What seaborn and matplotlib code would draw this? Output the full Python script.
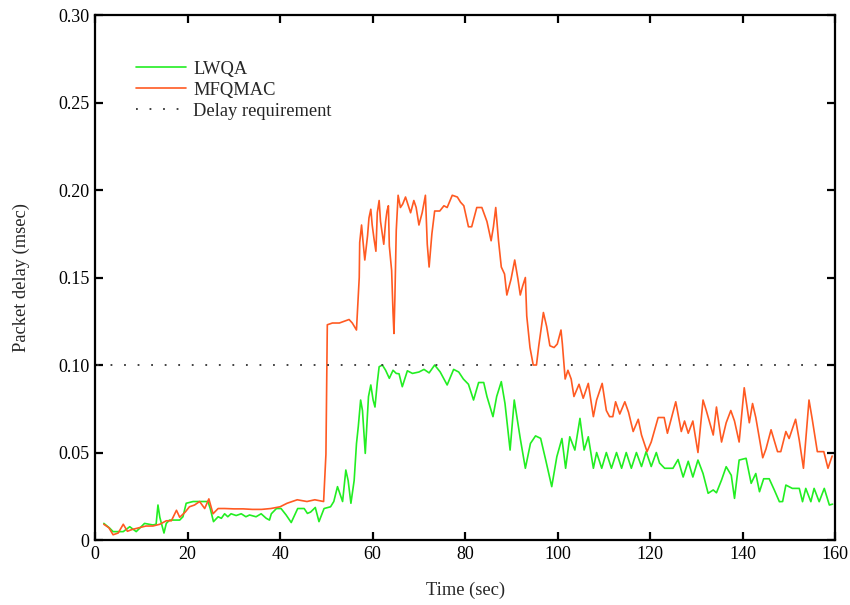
import numpy as np
import pandas as pd
import matplotlib
matplotlib.use("Agg")
import matplotlib.pyplot as plt
import seaborn as sns

# --- data ---
mfqmac_time = [1.9, 3.0, 3.9, 5.0, 6.1, 7.0, 8.0, 9.5, 11.0, 12.5, 14.0, 15.4, 16.5, 17.6, 18.3,
               19.5, 20.4, 21.5, 22.6, 23.7, 24.6, 25.5, 26.6, 28, 30, 32, 34, 36, 38, 40.0,
               41.5, 43.7, 45.8, 47.5, 49.4, 49.9, 50.2, 51.3, 52.8, 54.9, 55.6, 56.5, 56.7,
               57.1, 57.2, 57.6, 57.9, 58.3, 58.9, 59.2, 59.6, 59.9, 60.3, 60.7, 61.0, 61.4,
               61.7, 62.4, 62.8, 63.1, 63.4, 63.6, 64.1, 64.4, 64.6, 64.8, 65.1, 65.5, 66.0,
               66.5, 67.1, 67.7, 68.2, 68.9, 69.4, 70.0, 70.7, 71.4, 71.8, 72.2, 72.8, 73.4,
               74.5, 75.4, 76.1, 77.2, 78.3, 79.0, 79.7, 80.7, 81.4, 82.5, 83.6, 84.7, 85.6,
               86.1, 86.6, 87.2, 87.8, 88.5, 89.0, 89.9, 90.7, 91.4, 91.9, 92.4, 93.0, 93.3,
               94.0, 94.7, 95.4, 95.9, 96.9, 97.6, 98.3, 99.2, 99.9, 100.7, 101.0, 101.6,
               102.2, 102.9, 103.5, 104.6, 105.5, 106.6, 107.7, 108.4, 109.6, 110.5, 111.2,
               111.9, 112.5, 113.4, 114.5, 115.3, 116.3, 117.4, 118.1, 119.3, 120.2, 121.7,
               123.0, 123.7, 125.5, 126.7, 127.4, 128.2, 129.2, 130.3, 131.4, 132.1, 133.6,
               134.3, 135.4, 136.4, 137.4, 138.2, 139.2, 140.3, 141.4, 142.1, 142.8, 144.3,
               145.0, 146.1, 147.5, 148.2, 149.3, 150.0, 151.4, 152.2, 153.1, 154.3, 155.0,
               156.1, 157.5, 158.4, 159.3]
mfqmac_delay = [0.009, 0.007, 0.003, 0.004, 0.009, 0.005, 0.006, 0.007, 0.008, 0.008, 0.009, 0.011,
                0.011, 0.017, 0.013, 0.016, 0.019, 0.020, 0.022, 0.018, 0.0235, 0.015, 0.018,
                0.018, 0.0178, 0.0178, 0.0175, 0.0175, 0.018, 0.019, 0.021, 0.023, 0.022, 0.023,
                0.022, 0.049, 0.123, 0.124, 0.124, 0.126, 0.124, 0.120, 0.130, 0.150, 0.170,
                0.180, 0.171, 0.160, 0.174, 0.184, 0.189, 0.180, 0.172, 0.165, 0.187, 0.194,
                0.182, 0.169, 0.182, 0.188, 0.191, 0.168, 0.154, 0.130, 0.118, 0.138, 0.177,
                0.197, 0.190, 0.192, 0.196, 0.191, 0.187, 0.194, 0.190, 0.180, 0.187, 0.197,
                0.169, 0.156, 0.175, 0.188, 0.188, 0.191, 0.190, 0.197, 0.196, 0.193, 0.191,
                0.179, 0.179, 0.190, 0.190, 0.182, 0.171, 0.179, 0.190, 0.171, 0.156, 0.152,
                0.140, 0.149, 0.160, 0.149, 0.140, 0.145, 0.150, 0.128, 0.110, 0.100, 0.100,
                0.111, 0.130, 0.122, 0.111, 0.110, 0.112, 0.120, 0.112, 0.092, 0.097, 0.092,
                0.082, 0.089, 0.081, 0.0895, 0.0705, 0.080, 0.0895, 0.074, 0.0705, 0.0705,
                0.079, 0.072, 0.079, 0.073, 0.062, 0.069, 0.060, 0.0505, 0.056, 0.070, 0.070,
                0.061, 0.079, 0.062, 0.068, 0.061, 0.068, 0.050, 0.080, 0.074, 0.060, 0.076,
                0.056, 0.067, 0.074, 0.068, 0.056, 0.087, 0.067, 0.078, 0.070, 0.047, 0.052,
                0.063, 0.0505, 0.0505, 0.062, 0.058, 0.069, 0.057, 0.041, 0.080, 0.069, 0.0505,
                0.0505, 0.041, 0.048]

lwqa_time = [1.9, 3.2, 3.9, 6.1, 7.5, 8.9, 10.7, 12.5, 13.2, 13.6, 14.0, 14.9, 15.4, 16.1, 18.3,
             19.0, 19.7, 21.2, 23.3, 24.4, 24.9, 25.6, 26.6, 27.3, 28.0, 28.7, 29.4, 30.5, 31.6,
             32.6, 33.4, 34.8, 35.9, 37.0, 37.7, 38.1, 39.2, 40.2, 41.3, 42.4, 43.8, 45.2, 45.9,
             46.6, 47.6, 48.4, 49.5, 50.9, 51.6, 52.4, 52.9, 53.5, 54.2, 54.7, 55.3, 56.0, 56.5,
             56.9, 57.4, 57.8, 58.4, 59.1, 59.6, 60.1, 60.5, 61.0, 61.4, 62.1, 62.8, 63.6, 64.4,
             65.1, 65.7, 66.4, 67.5, 68.6, 70.0, 71.1, 72.2, 73.4, 74.6, 76.1, 77.5, 78.6, 79.6,
             80.7, 81.8, 82.9, 84.0, 84.7, 86.0, 86.8, 87.8, 88.6, 89.7, 90.6, 91.9, 93.0, 94.1,
             95.2, 96.3, 97.4, 98.7, 99.8, 100.9, 101.7, 102.6, 103.7, 104.8, 105.7, 106.6,
             107.7, 108.4, 109.5, 110.5, 111.6, 112.7, 113.8, 114.8, 115.9, 117.0, 118.1, 119.1,
             120.2, 121.3, 122.0, 123.1, 124.9, 126.0, 127.1, 128.2, 129.2, 130.3, 131.4, 132.5,
             133.6, 134.3, 135.4, 136.4, 137.5, 138.2, 139.2, 140.7, 141.8, 142.8, 143.6, 144.5,
             145.7, 146.8, 147.9, 148.6, 149.3, 150.7, 152.2, 152.9, 153.6, 154.7, 155.4, 156.5,
             157.6, 158.7, 159.4]
lwqa_delay = [0.0095, 0.0067, 0.0048, 0.0048, 0.0076, 0.0048, 0.0095, 0.0086, 0.009, 0.020, 0.013,
              0.004, 0.0095, 0.0114, 0.0114, 0.0133, 0.021, 0.022, 0.022, 0.022, 0.018, 0.0105,
              0.0133, 0.0124, 0.015, 0.0133, 0.015, 0.014, 0.015, 0.0133, 0.0143, 0.0133, 0.015,
              0.0124, 0.0114, 0.015, 0.018, 0.018, 0.0143, 0.010, 0.018, 0.018, 0.0152, 0.016,
              0.0186, 0.0105, 0.018, 0.019, 0.022, 0.0305, 0.0267, 0.022, 0.040, 0.034, 0.021,
              0.034, 0.055, 0.065, 0.080, 0.074, 0.0495, 0.082, 0.0886, 0.080, 0.076, 0.090,
              0.099, 0.100, 0.097, 0.0924, 0.097, 0.0952, 0.095, 0.0876, 0.0967, 0.0952, 0.096,
              0.0975, 0.0955, 0.100, 0.096, 0.0886, 0.0975, 0.096, 0.092, 0.089, 0.080, 0.090,
              0.090, 0.082, 0.0705, 0.082, 0.0905, 0.078, 0.0514, 0.080, 0.058, 0.041, 0.0552,
              0.0595, 0.0581, 0.0457, 0.0305, 0.0476, 0.058, 0.041, 0.059, 0.0514, 0.0695,
              0.0514, 0.059, 0.041, 0.050, 0.041, 0.050, 0.041, 0.050, 0.041, 0.050, 0.041, 0.050,
              0.042, 0.0505, 0.042, 0.050, 0.044, 0.041, 0.041, 0.046, 0.036, 0.045, 0.036,
              0.0457, 0.038, 0.0267, 0.0286, 0.027, 0.0343, 0.0419, 0.037, 0.0238, 0.0457,
              0.0467, 0.0324, 0.038, 0.0276, 0.035, 0.035, 0.0286, 0.0219, 0.022, 0.0314,
              0.0295, 0.0295, 0.0219, 0.0295, 0.0219, 0.0295, 0.0219, 0.0295, 0.020, 0.0205]

delay_requirement = 0.10
x_ticks = [0, 20, 40, 60, 80, 100, 120, 140, 160]
y_ticks = [0, 0.05, 0.10, 0.15, 0.20, 0.25, 0.30]
y_tick_labels = ["0", "0.05", "0.10", "0.15", "0.20", "0.25", "0.30"]

df_lwqa = pd.DataFrame({"time": lwqa_time, "delay": lwqa_delay})
df_mfq = pd.DataFrame({"time": mfqmac_time, "delay": mfqmac_delay})

sns.set_style("ticks")
plt.rcParams["font.family"] = ["Liberation Serif", "DejaVu Serif"]

fig = plt.figure(figsize=(8.5, 6.05), dpi=100)
ax = fig.add_axes([0.1118, 0.1074, 0.871, 0.8678])

sns.lineplot(data=df_lwqa, x="time", y="delay", ax=ax, color="#22ee22", lw=1.2,
             label="LWQA", estimator=None, sort=False)
sns.lineplot(data=df_mfq, x="time", y="delay", ax=ax, color="#ff5a22", lw=1.2,
             label="MFQMAC", estimator=None, sort=False)
ax.axhline(delay_requirement, xmin=0.003, xmax=0.99, color="#333333", lw=1.3,
           dashes=(1, 6.5), label="Delay requirement")

ax.set_xlim(0, 160)
ax.set_ylim(0, 0.30)
ax.set_xticks(x_ticks)
ax.set_yticks(y_ticks)
ax.set_yticklabels(y_tick_labels)
ax.tick_params(direction="in", length=6, width=1.6, top=True, right=True,
               labelsize=13, colors="black")
ax.tick_params(axis="x", pad=4)
ax.tick_params(axis="y", pad=4)
for s in ax.spines.values():
    s.set_linewidth(1.6)
    s.set_color("black")

ax.set_xlabel("Time (sec)", fontsize=13.3, labelpad=14)
ax.set_ylabel("Packet delay (msec)", fontsize=13.3, labelpad=20)

leg = ax.legend(loc="upper left", bbox_to_anchor=(0.045, 0.927), frameon=False,
                fontsize=13.3, handlelength=2.7, handletextpad=0.4,
                labelspacing=0.22, borderaxespad=0)

plt.savefig("out.png", dpi=100)
